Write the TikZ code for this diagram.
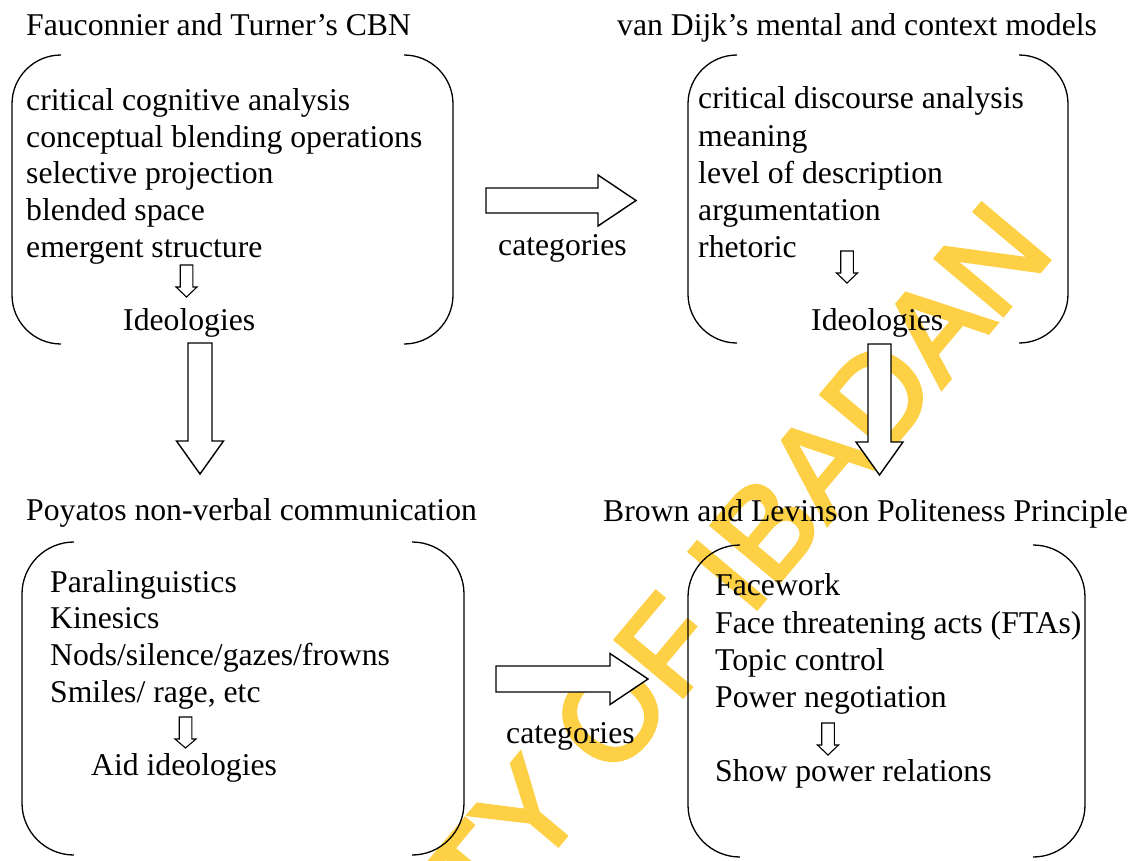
\documentclass[tikz,border=0pt]{standalone}
\usepackage{fontspec}
\setmainfont{Liberation Serif}
\newfontfamily\markfont[FakeBold=3]{Liberation Sans}
\definecolor{markyellow}{RGB}{253,208,70}

% a pair of round brackets enclosing a box: x1 y1 x2 y2 corner
\newcommand\bracketbox[5]{%
  \draw[bracket] ({#1+#5},#2) .. controls ({#1+0.448*#5},#2) and (#1,{#2+0.448*#5}) .. (#1,{#2+#5})
     -- (#1,{#4-#5}) .. controls (#1,{#4-0.448*#5}) and ({#1+0.448*#5},#4) .. ({#1+#5},#4);
  \draw[bracket] ({#3-#5},#2) .. controls ({#3-0.448*#5},#2) and (#3,{#2+0.448*#5}) .. (#3,{#2+#5})
     -- (#3,{#4-#5}) .. controls (#3,{#4-0.448*#5}) and ({#3-0.448*#5},#4) .. ({#3-#5},#4);
}

\begin{document}
\begin{tikzpicture}[x=1pt,y=-1pt,
  lbl/.style={anchor=base west, inner sep=0pt, font=\fontsize{31.7}{36.8}\selectfont},
  bracket/.style={draw=black, line width=1.3pt},
  blockarrow/.style={draw=black, fill=white, line width=1.4pt, line join=miter},
  smallarrow/.style={draw=black, fill=white, line width=1.1pt, line join=miter},
  pics/downarrow/.style args={#1/#2/#3/#4}{code={%
    \draw[blockarrow] (-#1,0) -- (#1,0) -- (#1,{#3-#4}) -- (#2,{#3-#4}) -- (0,#3)
      -- (-#2,{#3-#4}) -- (-#1,{#3-#4}) -- cycle;}},
  pics/smalldown/.style args={#1/#2/#3/#4}{code={%
    \draw[smallarrow] (-#1,0) -- (#1,0) -- (#1,{#3-#4}) -- (#2,{#3-#4}) -- (0,#3)
      -- (-#2,{#3-#4}) -- (-#1,{#3-#4}) -- cycle;}},
  pics/rightarrow/.style args={#1/#2/#3/#4}{code={%
    \draw[blockarrow] (0,-#1) -- ({#3-#4},-#1) -- ({#3-#4},-#2) -- (#3,0)
      -- ({#3-#4},#2) -- ({#3-#4},#1) -- (0,#1) -- cycle;}},
]
\useasboundingbox (0,0) rectangle (1143,860);
\clip (0,0) rectangle (1143,860);
\fill[white] (0,0) rectangle (1143,860);

% watermark
\node[rotate=50, anchor=base east, inner sep=0pt, text=markyellow,
      font=\markfont\fontsize{128}{128}\selectfont] (mark) at (1056,252) {UNIVERSITY OF IBADAN};

% headings
\node[lbl] (h1) at (26,35) {Fauconnier and Turner’s CBN};
\node[lbl] (h2) at (617,35) {van Dijk’s mental and context models};
\node[lbl] (h3) at (26,520) {Poyatos non-verbal communication};
\node[lbl] (h4) at (603,521) {Brown and Levinson Politeness Principle};

% top-left box
\bracketbox{12}{55}{453}{344}{49}
\node[lbl] (tl1) at (26,110) {critical cognitive analysis};
\node[lbl] (tl2) at (26,147) {conceptual blending operations};
\node[lbl] (tl3) at (26,183) {selective projection};
\node[lbl] (tl4) at (26,220) {blended space};
\node[lbl] (tl5) at (26,257) {emergent structure};
\pic at (186.5,265) {smalldown=6.3/10.5/32/10};
\node[lbl] (tl6) at (123,330) {Ideologies};

% top-right box
\bracketbox{688}{55}{1068}{343}{49}
\node[lbl] (tr1) at (698,108) {critical discourse analysis};
\node[lbl] (tr2) at (698,146) {meaning};
\node[lbl] (tr3) at (698,183) {level of description};
\node[lbl] (tr4) at (698,220) {argumentation};
\node[lbl] (tr5) at (698,257) {rhetoric};
\pic at (847,251) {smalldown=6.3/10.5/32/10};
\node[lbl] (tr6) at (811,330) {Ideologies};

% bottom-left box
\bracketbox{22}{542}{464}{855}{52}
\node[lbl] (bl1) at (50,592) {Paralinguistics};
\node[lbl] (bl2) at (50,628) {Kinesics};
\node[lbl] (bl3) at (50,665) {Nods/silence/gazes/frowns};
\node[lbl] (bl4) at (50,702) {Smiles/ rage, etc};
\pic at (185.5,717) {smalldown=6.3/10.5/31/9};
\node[lbl] (bl5) at (91,775) {Aid ideologies};

% bottom-right box
\bracketbox{688}{545}{1085}{857}{52}
\node[lbl] (br1) at (715,595) {Facework};
\node[lbl] (br2) at (715,633) {Face threatening acts (FTAs)};
\node[lbl] (br3) at (715,670) {Topic control};
\node[lbl] (br4) at (715,707) {Power negotiation};
\pic at (828,723) {smalldown=6.3/10.5/32/10};
\node[lbl] (br5) at (715,781) {Show power relations};

% block arrows between the models
\pic at (200,343) {downarrow=12/23.5/131/33};
\pic at (879.5,344) {downarrow=11.5/23.5/131/33};
\pic at (486,200.5) {rightarrow=12.5/25.5/150/38};
\node[lbl] (c1) at (498,255) {categories};
\pic at (496,679) {rightarrow=13/25.5/152/38};
\node[lbl] (c2) at (506,743) {categories};
\end{tikzpicture}
\end{document}
